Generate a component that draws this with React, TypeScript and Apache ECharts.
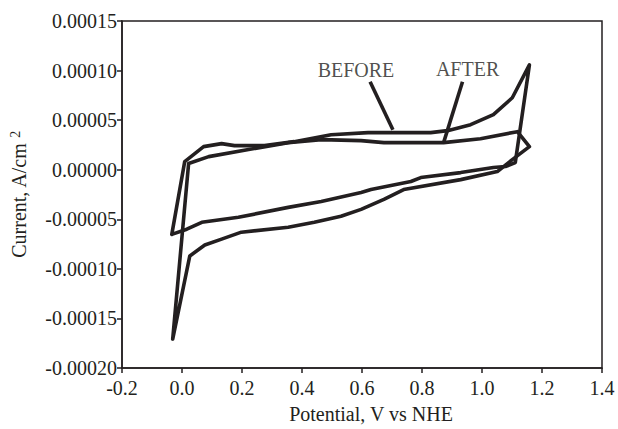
import { useEffect, useRef } from "react";
import * as echarts from "echarts";

// Cyclic voltammogram, BEFORE loop (the one with the anodic spike)
const beforePotential = [
  -0.034, 0.009, 0.072, 0.132, 0.175, 0.275, 0.374, 0.497, 0.62, 0.829, 0.885, 0.962,
  1.038, 1.101, 1.158, 1.111, 1.078, 1.038, 0.929, 0.796, 0.763, 0.63, 0.597, 0.464,
  0.354, 0.188, 0.066, 0.016, -0.034,
];
const beforeCurrent = [
  -0.0000652, 0.0000082, 0.0000233, 0.0000263, 0.0000243, 0.0000243, 0.0000283, 0.0000353,
  0.0000374, 0.0000374, 0.0000394, 0.0000454, 0.0000555, 0.0000726, 0.0001057, 0.0000072,
  0.0000032, 0.0000022, -0.0000029, -0.0000079, -0.0000119, -0.00002, -0.000023, -0.000032,
  -0.000038, -0.000048, -0.000053, -0.00006, -0.0000652,
];

// AFTER loop (the one with the cathodic spike)
const afterPotential = [
  -0.031, 0.022, 0.089, 0.222, 0.354, 0.464, 0.597, 0.673, 0.872, 0.995, 1.118, 1.158,
  1.101, 1.051, 0.929, 0.739, 0.673, 0.597, 0.53, 0.441, 0.354, 0.198, 0.132, 0.076,
  0.026, -0.031,
];
const afterCurrent = [
  -0.0001708, 0.0000062, 0.0000132, 0.0000203, 0.0000273, 0.0000303, 0.0000293, 0.0000273,
  0.0000273, 0.0000313, 0.0000384, 0.0000233, 0.0000102, -0.0000019, -0.00001, -0.00002,
  -0.00003, -0.00004, -0.000047, -0.000053, -0.000058, -0.000063, -0.00007, -0.000076,
  -0.000087, -0.0001708,
];

// Annotations (data coordinates)
const annotationLabels = ["BEFORE", "AFTER"];
const labelPotential = [0.58, 0.952];
const labelCurrent = [0.0001007, 0.0001017];
const pointerStartPotential = [0.627, 0.935];
const pointerStartCurrent = [0.0000887, 0.0000887];
const pointerEndPotential = [0.703, 0.872];
const pointerEndCurrent = [0.0000404, 0.0000273];

const xMin = -0.2;
const xMax = 1.4;
const xStep = 0.2;
const yMin = -0.0002;
const yMax = 0.00015;
const yStep = 0.00005;

const INK = "#231f20";
const FONT = "'Liberation Serif', 'Times New Roman', serif";
const FS = 20;

export default function App() {
  const ref = useRef<HTMLDivElement>(null);

  useEffect(() => {
    if (!ref.current) return;
    const chart = echarts.init(ref.current, undefined, { renderer: "svg" });

    const zip = (xs: number[], ys: number[]) => xs.map((x, i) => [x, ys[i]]);

    const lineStyle = { color: INK, width: 3.6, join: "round" as const, cap: "round" as const };

    chart.setOption({
      animation: false,
      backgroundColor: "#ffffff",
      textStyle: { fontFamily: FONT, color: INK },
      grid: {
        left: 120,
        right: 16,
        top: 21,
        bottom: 60,
        show: true,
        borderColor: INK,
        borderWidth: 1.5,
        containLabel: false,
      },
      xAxis: {
        type: "value",
        min: xMin,
        max: xMax,
        interval: xStep,
        name: "Potential, V vs NHE",
        nameLocation: "middle",
        nameGap: 36,
        nameTextStyle: { fontFamily: FONT, fontSize: FS, color: INK, padding: [0, 0, 0, 18] },
        axisLine: { show: true, onZero: false, lineStyle: { color: INK, width: 1.5 } },
        axisTick: { show: true, inside: false, length: 5, lineStyle: { color: INK, width: 1.5 } },
        axisLabel: {
          fontFamily: FONT,
          fontSize: FS,
          color: INK,
          margin: 10,
          formatter: (v: number) => v.toFixed(1),
        },
        splitLine: { show: false },
      },
      yAxis: {
        type: "value",
        min: yMin,
        max: yMax,
        interval: yStep,
        name: "{a|Current, A/cm }{s|2}",
        nameLocation: "middle",
        nameRotate: 90,
        nameGap: 92,
        nameTextStyle: {
          fontFamily: FONT,
          color: INK,
          rich: {
            a: { fontFamily: FONT, fontSize: FS, color: INK, lineHeight: 22 },
            s: { fontFamily: FONT, fontSize: 14, color: INK, verticalAlign: "top", lineHeight: 22 },
          },
        },
        axisLine: { show: true, onZero: false, lineStyle: { color: INK, width: 1.5 } },
        axisTick: { show: true, inside: false, length: 5, lineStyle: { color: INK, width: 1.5 } },
        axisLabel: {
          fontFamily: FONT,
          fontSize: FS,
          color: INK,
          margin: 5,
          formatter: (v: number) => (Math.abs(v) < 1e-12 ? "0.00000" : v.toFixed(5)),
        },
        splitLine: { show: false },
      },
      series: [
        {
          name: "BEFORE",
          type: "line",
          data: zip(beforePotential, beforeCurrent),
          showSymbol: false,
          symbol: "none",
          lineStyle,
          z: 3,
        },
        {
          name: "AFTER",
          type: "line",
          data: zip(afterPotential, afterCurrent),
          showSymbol: false,
          symbol: "none",
          lineStyle,
          z: 3,
        },
        {
          name: "annotations",
          type: "scatter",
          data: annotationLabels.map((t, i) => ({ value: [labelPotential[i], labelCurrent[i]], name: t })),
          symbolSize: 0,
          itemStyle: { color: "transparent" },
          label: {
            show: true,
            position: "inside",
            formatter: (p: any) => p.name,
            fontFamily: FONT,
            fontSize: FS,
            color: INK,
          },
          silent: true,
          markLine: {
            silent: true,
            symbol: ["none", "none"],
            label: { show: false },
            lineStyle: { color: INK, width: 3.6, type: "solid" },
            data: annotationLabels.map((_, i) => [
              { coord: [pointerStartPotential[i], pointerStartCurrent[i]] },
              { coord: [pointerEndPotential[i], pointerEndCurrent[i]] },
            ]),
          },
          z: 4,
        },
      ],
    });

    return () => chart.dispose();
  }, []);

  return (
    <div
      ref={ref}
      style={{ position: "fixed", left: 0, top: 0, width: 618, height: 429, background: "#fff" }}
    />
  );
}
